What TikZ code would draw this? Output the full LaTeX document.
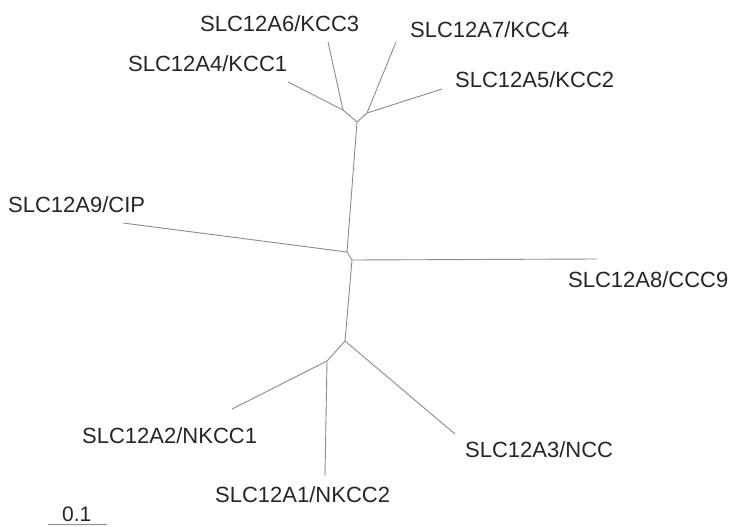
\documentclass[tikz,border=0pt]{standalone}
\usepackage{fontspec}
\setmainfont{Liberation Sans}
\begin{document}
\begin{tikzpicture}[x=1pt,y=-1pt,
  branch/.style={draw=black!45,line width=0.9pt},
  leaflabel/.style={anchor=base west,inner sep=0pt,text=black!85,font=\fontsize{22}{26}\selectfont},
  scalelabel/.style={anchor=base west,inner sep=0pt,text=black!85,font=\fontsize{21}{25}\selectfont}]
\useasboundingbox[fill=white] (0,0) rectangle (734,527);
% internal nodes
\coordinate (T)  at (357,122);
\coordinate (T1) at (343,110);
\coordinate (T2) at (367,113);
\coordinate (C1) at (347,252);
\coordinate (C2) at (352,260);
\coordinate (B1) at (345,341);
\coordinate (B2) at (327,361);
% leaf ends
\coordinate (e4) at (288,82);
\coordinate (e6) at (328,42);
\coordinate (e7) at (396,42);
\coordinate (e5) at (442,89);
\coordinate (e9) at (123,223);
\coordinate (e8) at (597,259);
\coordinate (e2) at (232,409);
\coordinate (e1) at (325,476);
\coordinate (e3) at (455,434);
% scale bar ends
\coordinate (s0) at (48,524);
\coordinate (s1) at (107,524);
% branches
\draw[branch] (e4) -- (T1);
\draw[branch] (e6) -- (T1);
\draw[branch] (T1) -- (T);
\draw[branch] (e7) -- (T2);
\draw[branch] (e5) -- (T2);
\draw[branch] (T2) -- (T);
\draw[branch] (T) -- (C1);
\draw[branch] (e9) -- (C1);
\draw[branch] (C1) -- (C2);
\draw[branch] (C2) -- (e8);
\draw[branch] (C2) -- (B1);
\draw[branch] (B1) -- (e3);
\draw[branch] (B1) -- (B2);
\draw[branch] (B2) -- (e2);
\draw[branch] (B2) -- (e1);
\draw[branch] (s0) -- (s1);
% labels
\node[leaflabel] (l6) at (200,32) {SLC12A6/KCC3};
\node[leaflabel] (l7) at (410,38) {SLC12A7/KCC4};
\node[leaflabel] (l4) at (128,72) {SLC12A4/KCC1};
\node[leaflabel] (l5) at (455,88) {SLC12A5/KCC2};
\node[leaflabel] (l9) at (8,212) {SLC12A9/CIP};
\node[leaflabel] (l8) at (568,287) {SLC12A8/CCC9};
\node[leaflabel] (l2) at (82,443) {SLC12A2/NKCC1};
\node[leaflabel] (l3) at (465,457) {SLC12A3/NCC};
\node[leaflabel] (l1) at (215,502) {SLC12A1/NKCC2};
\node[scalelabel] (sc) at (62,521) {0.1};
\end{tikzpicture}
\end{document}
